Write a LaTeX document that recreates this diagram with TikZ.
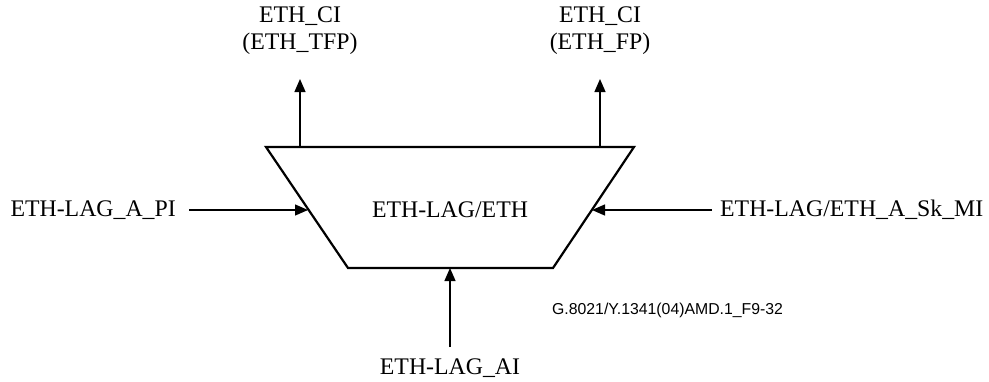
\documentclass[tikz,border=0pt]{standalone}
\usepackage{fontspec}
\setmainfont{Liberation Serif}
\newfontfamily\arialfont{Liberation Sans}
\usetikzlibrary{arrows.meta}
\begin{document}
\begin{tikzpicture}[x=1pt,y=-1pt,
  lbl/.style={font=\fontsize{23.8}{27}\selectfont, inner sep=0pt},
  conn/.style={line width=1.3pt, -{Triangle[length=13pt,width=11pt]}},
  box/.style={line width=2.2pt, line join=miter}]
\useasboundingbox (0,0) rectangle (989,381);
\coordinate (tl) at (266,147);
\coordinate (tr) at (634,147);
\coordinate (br) at (553,268);
\coordinate (bl) at (348,268);
\draw[box] (tl) -- (tr) -- (br) -- (bl) -- cycle;
\node[lbl] (fn) at (450,210) {ETH-LAG/ETH};
% top outputs
\coordinate (o1) at (300,147);
\coordinate (o2) at (600,147);
\node[lbl, align=center] (t1) at (300,31) {ETH\_CI\\(ETH\_TFP)};
\node[lbl, align=center] (t2) at (600,31) {ETH\_CI\\(ETH\_FP)};
\coordinate (t1e) at (300,79);
\coordinate (t2e) at (600,79);
\draw[conn] (o1) -- (t1e);
\draw[conn] (o2) -- (t2e);
% left input
\node[lbl, anchor=east] (pi) at (176,210) {ETH-LAG\_A\_PI};
\coordinate (le) at (308,210);
\draw[conn] (189,210) -- (le);
% right input
\node[lbl, anchor=west] (mi) at (720,210) {ETH-LAG/ETH\_A\_Sk\_MI};
\coordinate (re) at (592,210);
\draw[conn] (712,210) -- (re);
% bottom input
\node[lbl] (ai) at (450,368) {ETH-LAG\_AI};
\coordinate (be) at (450,268);
\draw[conn] (450,347) -- (be);
% figure id
\node[font=\arialfont\fontsize{15.8}{18}\selectfont, anchor=west, inner sep=0pt] (id) at (552,310) {G.8021/Y.1341(04)AMD.1\_F9-32};
\end{tikzpicture}
\end{document}
